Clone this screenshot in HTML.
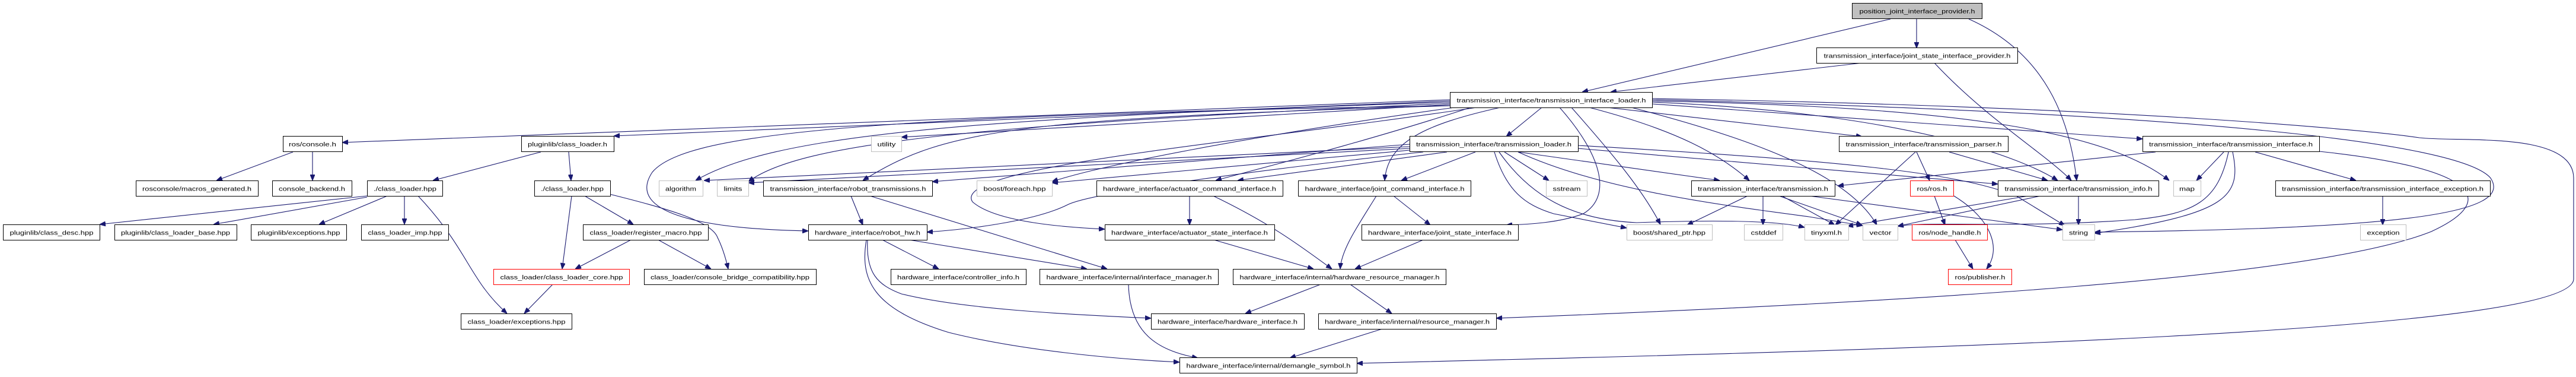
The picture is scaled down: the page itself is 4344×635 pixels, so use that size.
<!DOCTYPE html>
<html><head><meta charset="utf-8"><style>
html,body{margin:0;padding:0;background:#fff;}
svg{display:block;}
text{font-family:"Liberation Sans",sans-serif;font-size:10.5px;fill:#000;}
.e{fill:none;stroke:#191970;stroke-width:1.1;marker-end:url(#a);}
</style></head><body>
<svg width="4344" height="635" viewBox="0 0 4344 635" xmlns="http://www.w3.org/2000/svg">
<defs><marker id="a" markerUnits="userSpaceOnUse" markerWidth="10" markerHeight="8" refX="10" refY="4" orient="auto"><path d="M0,0 L10,4 L0,8 z" fill="#191970" stroke="#191970"/></marker></defs>
<g>
<!-- edges -->
<path class="e" d="M3232,32 L3232,81"/>
<path class="e" d="M3188,32 L2668,155"/>
<path class="e" d="M3320,32 C3450,90 3490,200 3502,304"/>
<path class="e" d="M3140,106 L2716,155"/>
<path class="e" d="M3262,106 C3350,200 3450,260 3493,304"/>
<path class="e" d="M2445,168 L577,240"/>
<path class="e" d="M2445,170 L1035,229"/>
<path class="e" d="M2445,172 C1600,200 1300,230 1173,304"/>
<path class="e" d="M2445,174 C1650,210 1350,240 1262,306"/>
<path class="e" d="M2445,176 L1520,231"/>
<path class="e" d="M2450,178 C1700,200 1590,220 1455,304"/>
<path class="e" d="M2445,178 C1400,195 1150,230 1100,290 C1060,350 1150,385 1363,389"/>
<path class="e" d="M2460,180 C2100,230 1850,280 1774,306"/>
<path class="e" d="M2480,181 C2300,240 2100,290 2050,304"/>
<path class="e" d="M2490,181 C2100,240 1600,280 1640,340 C1680,375 1800,383 1863,386"/>
<path class="e" d="M2600,181 L2540,230"/>
<path class="e" d="M2530,181 C2400,210 2340,240 2335,304"/>
<path class="e" d="M2630,181 C2700,260 2720,330 2670,360 C2630,375 2580,378 2540,379"/>
<path class="e" d="M2650,181 C2720,260 2770,320 2800,378"/>
<path class="e" d="M2680,181 C2830,220 2900,260 2950,304"/>
<path class="e" d="M2786,175 L3613,234"/>
<path class="e" d="M2710,181 L3140,230"/>
<path class="e" d="M2786,172 C3200,190 3400,260 3470,304"/>
<path class="e" d="M2786,170 C3300,180 3550,220 3658,304"/>
<path class="e" d="M2751,181 C2980,240 3120,300 3165,379"/>
<path class="e" d="M2786,168 C3700,190 4150,240 4200,300 C4240,360 4050,385 3532,391"/>
<path class="e" d="M3911,255 C4150,280 4230,330 4100,390 C3900,470 3200,510 2523,536"/>
<path class="e" d="M2786,166 C3600,180 4000,220 4080,232 C4150,240 4340,220 4340,300 L4340,470 C4340,560 3200,590 2288,612"/>
<path class="e" d="M2377,247 L1187,304"/>
<path class="e" d="M2377,250 L1262,308"/>
<path class="e" d="M2377,243 L1572,306"/>
<path class="e" d="M2377,253 L1774,308"/>
<path class="e" d="M2440,256 L2087,304"/>
<path class="e" d="M2400,256 C2000,300 1830,330 1800,345 C1750,370 1650,385 1563,391"/>
<path class="e" d="M2488,256 L2363,304"/>
<path class="e" d="M2537,256 L2612,304"/>
<path class="e" d="M2520,256 C2540,320 2570,345 2620,360 L2743,384"/>
<path class="e" d="M2528,256 C2580,330 2650,370 2760,375 C2900,370 3000,372 3043,383"/>
<path class="e" d="M2560,256 L2900,304"/>
<path class="e" d="M2661,250 L3369,310"/>
<path class="e" d="M2661,245 C3100,270 3300,290 3400,330 L3482,380"/>
<path class="e" d="M2560,256 C2700,320 2900,345 3050,365 L3141,380"/>
<path class="e" d="M494,256 L365,304"/>
<path class="e" d="M527,256 L527,304"/>
<path class="e" d="M912,256 L730,304"/>
<path class="e" d="M959,256 L963,304"/>
<path class="e" d="M619,330 L168,378"/>
<path class="e" d="M619,332 L360,378"/>
<path class="e" d="M653,330 L538,378"/>
<path class="e" d="M682,330 L682,378"/>
<path class="e" d="M705,330 C790,420 790,470 855,528"/>
<path class="e" d="M964,330 L948,453"/>
<path class="e" d="M986,330 L1068,378"/>
<path class="e" d="M1028,327 C1120,350 1200,372 1210,400 C1220,420 1225,440 1228,453"/>
<path class="e" d="M1064,404 L970,453"/>
<path class="e" d="M1110,404 L1199,453"/>
<path class="e" d="M932,479 L884,528"/>
<path class="e" d="M1435,330 L1455,379"/>
<path class="e" d="M1467,330 L1867,453"/>
<path class="e" d="M2006,330 L2006,379"/>
<path class="e" d="M2046,330 C2150,380 2200,420 2246,453"/>
<path class="e" d="M2321,330 C2290,380 2262,420 2260,453"/>
<path class="e" d="M2350,330 L2412,379"/>
<path class="e" d="M1488,404 L1583,453"/>
<path class="e" d="M1533,404 L1833,453"/>
<path class="e" d="M1463,404 C1460,460 1480,480 1520,495 C1620,520 1800,530 1941,536"/>
<path class="e" d="M1461,404 C1450,470 1470,520 1600,560 C1720,590 1880,605 1989,610"/>
<path class="e" d="M2047,404 L2215,453"/>
<path class="e" d="M2400,404 L2285,453"/>
<path class="e" d="M1903,479 C1905,560 1950,590 2020,603"/>
<path class="e" d="M2227,479 L2100,528"/>
<path class="e" d="M2277,479 L2347,528"/>
<path class="e" d="M2334,553 L2175,603"/>
<path class="e" d="M2947,330 L2845,379"/>
<path class="e" d="M2973,330 L2973,379"/>
<path class="e" d="M3005,330 L3094,379"/>
<path class="e" d="M3051,330 L3478,387"/>
<path class="e" d="M3000,330 L3140,379"/>
<path class="e" d="M3232,256 L3254,304"/>
<path class="e" d="M3287,256 L3453,304"/>
<path class="e" d="M3230,256 L3095,379"/>
<path class="e" d="M3420,330 L3115,381"/>
<path class="e" d="M3441,330 L3200,381"/>
<path class="e" d="M3505,330 L3505,379"/>
<path class="e" d="M3262,330 L3280,379"/>
<path class="e" d="M3295,330 C3360,370 3375,420 3350,453"/>
<path class="e" d="M3297,404 L3327,453"/>
<path class="e" d="M3635,256 L3099,313"/>
<path class="e" d="M3750,256 L3704,304"/>
<path class="e" d="M3758,256 C3740,340 3700,360 3600,370 C3400,385 3250,372 3200,381"/>
<path class="e" d="M3765,256 C3780,330 3760,360 3532,393"/>
<path class="e" d="M3803,256 L3973,304"/>
<path class="e" d="M4018,330 L4018,379"/>
</g>
<g id="nodes"></g>
<!-- nodes: rect + text -->
<g stroke-width="1">
<rect x="3123.5" y="5.5" width="219" height="26" fill="#bfbfbf" stroke="#000"/><text x="3233" y="22.5" text-anchor="middle" textLength="195" lengthAdjust="spacingAndGlyphs">position_joint_interface_provider.h</text>
<rect x="3063.5" y="80.5" width="339" height="26" fill="#fff" stroke="#000"/><text x="3233" y="97.5" text-anchor="middle" textLength="315" lengthAdjust="spacingAndGlyphs">transmission_interface/joint_state_interface_provider.h</text>
<rect x="2445.5" y="155.5" width="341" height="26" fill="#fff" stroke="#000"/><text x="2616" y="172.5" text-anchor="middle" textLength="319" lengthAdjust="spacingAndGlyphs">transmission_interface/transmission_interface_loader.h</text>

<rect x="477.5" y="229.5" width="100" height="26" fill="#fff" stroke="#000"/><text x="527" y="246.5" text-anchor="middle" textLength="80" lengthAdjust="spacingAndGlyphs">ros/console.h</text>
<rect x="879.5" y="229.5" width="156" height="26" fill="#fff" stroke="#000"/><text x="957" y="246.5" text-anchor="middle" textLength="134" lengthAdjust="spacingAndGlyphs">pluginlib/class_loader.h</text>
<rect x="1469.5" y="229.5" width="51" height="26" fill="#fff" stroke="#bfbfbf"/><text x="1495" y="246.5" text-anchor="middle" textLength="31" lengthAdjust="spacingAndGlyphs">utility</text>
<rect x="2377.5" y="229.5" width="284" height="26" fill="#fff" stroke="#000"/><text x="2519" y="246.5" text-anchor="middle" textLength="262" lengthAdjust="spacingAndGlyphs">transmission_interface/transmission_loader.h</text>
<rect x="3101.5" y="229.5" width="285" height="26" fill="#fff" stroke="#000"/><text x="3244" y="246.5" text-anchor="middle" textLength="263" lengthAdjust="spacingAndGlyphs">transmission_interface/transmission_parser.h</text>
<rect x="3613.5" y="229.5" width="298" height="26" fill="#fff" stroke="#000"/><text x="3762" y="246.5" text-anchor="middle" textLength="276" lengthAdjust="spacingAndGlyphs">transmission_interface/transmission_interface.h</text>

<rect x="229.5" y="304.5" width="206" height="26" fill="#fff" stroke="#000"/><text x="332" y="321.5" text-anchor="middle" textLength="184" lengthAdjust="spacingAndGlyphs">rosconsole/macros_generated.h</text>
<rect x="459.5" y="304.5" width="134" height="26" fill="#fff" stroke="#000"/><text x="526" y="321.5" text-anchor="middle" textLength="112" lengthAdjust="spacingAndGlyphs">console_backend.h</text>
<rect x="619.5" y="304.5" width="127" height="26" fill="#fff" stroke="#000"/><text x="683" y="321.5" text-anchor="middle" textLength="106" lengthAdjust="spacingAndGlyphs">./class_loader.hpp</text>
<rect x="901.5" y="304.5" width="128" height="26" fill="#fff" stroke="#000"/><text x="965" y="321.5" text-anchor="middle" textLength="106" lengthAdjust="spacingAndGlyphs">./class_loader.hpp</text>
<rect x="1111.5" y="304.5" width="74" height="26" fill="#fff" stroke="#bfbfbf"/><text x="1148" y="321.5" text-anchor="middle" textLength="52" lengthAdjust="spacingAndGlyphs">algorithm</text>
<rect x="1209.5" y="304.5" width="53" height="26" fill="#fff" stroke="#bfbfbf"/><text x="1236" y="321.5" text-anchor="middle" textLength="31" lengthAdjust="spacingAndGlyphs">limits</text>
<rect x="1287.5" y="304.5" width="285" height="26" fill="#fff" stroke="#000"/><text x="1430" y="321.5" text-anchor="middle" textLength="263" lengthAdjust="spacingAndGlyphs">transmission_interface/robot_transmissions.h</text>
<rect x="1647.5" y="304.5" width="127" height="26" fill="#fff" stroke="#bfbfbf"/><text x="1711" y="321.5" text-anchor="middle" textLength="105" lengthAdjust="spacingAndGlyphs">boost/foreach.hpp</text>
<rect x="1849.5" y="304.5" width="314" height="26" fill="#fff" stroke="#000"/><text x="2006" y="321.5" text-anchor="middle" textLength="292" lengthAdjust="spacingAndGlyphs">hardware_interface/actuator_command_interface.h</text>
<rect x="2189.5" y="304.5" width="291" height="26" fill="#fff" stroke="#000"/><text x="2335" y="321.5" text-anchor="middle" textLength="269" lengthAdjust="spacingAndGlyphs">hardware_interface/joint_command_interface.h</text>
<rect x="2607.5" y="304.5" width="69" height="26" fill="#fff" stroke="#bfbfbf"/><text x="2642" y="321.5" text-anchor="middle" textLength="47" lengthAdjust="spacingAndGlyphs">sstream</text>
<rect x="2852.5" y="304.5" width="242" height="26" fill="#fff" stroke="#000"/><text x="2973" y="321.5" text-anchor="middle" textLength="220" lengthAdjust="spacingAndGlyphs">transmission_interface/transmission.h</text>
<rect x="3221.5" y="304.5" width="73" height="26" fill="#fff" stroke="#ff0000"/><text x="3258" y="321.5" text-anchor="middle" textLength="51" lengthAdjust="spacingAndGlyphs">ros/ros.h</text>
<rect x="3369.5" y="304.5" width="271" height="26" fill="#fff" stroke="#000"/><text x="3505" y="321.5" text-anchor="middle" textLength="249" lengthAdjust="spacingAndGlyphs">transmission_interface/transmission_info.h</text>
<rect x="3665.5" y="304.5" width="46" height="26" fill="#fff" stroke="#bfbfbf"/><text x="3688" y="321.5" text-anchor="middle" textLength="26" lengthAdjust="spacingAndGlyphs">map</text>
<rect x="3837.5" y="304.5" width="362" height="26" fill="#fff" stroke="#000"/><text x="4018" y="321.5" text-anchor="middle" textLength="340" lengthAdjust="spacingAndGlyphs">transmission_interface/transmission_interface_exception.h</text>

<rect x="5.5" y="378.5" width="163" height="26" fill="#fff" stroke="#000"/><text x="87" y="395.5" text-anchor="middle" textLength="141" lengthAdjust="spacingAndGlyphs">pluginlib/class_desc.hpp</text>
<rect x="193.5" y="378.5" width="206" height="26" fill="#fff" stroke="#000"/><text x="296" y="395.5" text-anchor="middle" textLength="184" lengthAdjust="spacingAndGlyphs">pluginlib/class_loader_base.hpp</text>
<rect x="423.5" y="378.5" width="161" height="26" fill="#fff" stroke="#000"/><text x="504" y="395.5" text-anchor="middle" textLength="139" lengthAdjust="spacingAndGlyphs">pluginlib/exceptions.hpp</text>
<rect x="609.5" y="378.5" width="147" height="26" fill="#fff" stroke="#000"/><text x="683" y="395.5" text-anchor="middle" textLength="125" lengthAdjust="spacingAndGlyphs">class_loader_imp.hpp</text>
<rect x="983.5" y="378.5" width="211" height="26" fill="#fff" stroke="#000"/><text x="1089" y="395.5" text-anchor="middle" textLength="189" lengthAdjust="spacingAndGlyphs">class_loader/register_macro.hpp</text>
<rect x="1363.5" y="378.5" width="200" height="26" fill="#fff" stroke="#000"/><text x="1463" y="395.5" text-anchor="middle" textLength="178" lengthAdjust="spacingAndGlyphs">hardware_interface/robot_hw.h</text>
<rect x="1863.5" y="378.5" width="286" height="26" fill="#fff" stroke="#000"/><text x="2006" y="395.5" text-anchor="middle" textLength="264" lengthAdjust="spacingAndGlyphs">hardware_interface/actuator_state_interface.h</text>
<rect x="2296.5" y="378.5" width="264" height="26" fill="#fff" stroke="#000"/><text x="2428" y="395.5" text-anchor="middle" textLength="242" lengthAdjust="spacingAndGlyphs">hardware_interface/joint_state_interface.h</text>
<rect x="2743.5" y="378.5" width="144" height="26" fill="#fff" stroke="#bfbfbf"/><text x="2815" y="395.5" text-anchor="middle" textLength="122" lengthAdjust="spacingAndGlyphs">boost/shared_ptr.hpp</text>
<rect x="2941.5" y="378.5" width="65" height="26" fill="#fff" stroke="#bfbfbf"/><text x="2974" y="395.5" text-anchor="middle" textLength="43" lengthAdjust="spacingAndGlyphs">cstddef</text>
<rect x="3043.5" y="378.5" width="74" height="26" fill="#fff" stroke="#bfbfbf"/><text x="3080" y="395.5" text-anchor="middle" textLength="52" lengthAdjust="spacingAndGlyphs">tinyxml.h</text>
<rect x="3141.5" y="378.5" width="59" height="26" fill="#fff" stroke="#bfbfbf"/><text x="3171" y="395.5" text-anchor="middle" textLength="37" lengthAdjust="spacingAndGlyphs">vector</text>
<rect x="3224.5" y="378.5" width="127" height="26" fill="#fff" stroke="#ff0000"/><text x="3288" y="395.5" text-anchor="middle" textLength="105" lengthAdjust="spacingAndGlyphs">ros/node_handle.h</text>
<rect x="3478.5" y="378.5" width="54" height="26" fill="#fff" stroke="#bfbfbf"/><text x="3505" y="395.5" text-anchor="middle" textLength="32" lengthAdjust="spacingAndGlyphs">string</text>
<rect x="3980.5" y="378.5" width="77" height="26" fill="#fff" stroke="#bfbfbf"/><text x="4019" y="395.5" text-anchor="middle" textLength="55" lengthAdjust="spacingAndGlyphs">exception</text>

<rect x="832.5" y="453.5" width="229" height="26" fill="#fff" stroke="#ff0000"/><text x="947" y="470.5" text-anchor="middle" textLength="207" lengthAdjust="spacingAndGlyphs">class_loader/class_loader_core.hpp</text>
<rect x="1086.5" y="453.5" width="290" height="26" fill="#fff" stroke="#000"/><text x="1231" y="470.5" text-anchor="middle" textLength="268" lengthAdjust="spacingAndGlyphs">class_loader/console_bridge_compatibility.hpp</text>
<rect x="1502.5" y="453.5" width="228" height="26" fill="#fff" stroke="#000"/><text x="1616" y="470.5" text-anchor="middle" textLength="206" lengthAdjust="spacingAndGlyphs">hardware_interface/controller_info.h</text>
<rect x="1753.5" y="453.5" width="301" height="26" fill="#fff" stroke="#000"/><text x="1904" y="470.5" text-anchor="middle" textLength="279" lengthAdjust="spacingAndGlyphs">hardware_interface/internal/interface_manager.h</text>
<rect x="2079.5" y="453.5" width="359" height="26" fill="#fff" stroke="#000"/><text x="2259" y="470.5" text-anchor="middle" textLength="337" lengthAdjust="spacingAndGlyphs">hardware_interface/internal/hardware_resource_manager.h</text>
<rect x="3285.5" y="453.5" width="107" height="26" fill="#fff" stroke="#ff0000"/><text x="3339" y="470.5" text-anchor="middle" textLength="85" lengthAdjust="spacingAndGlyphs">ros/publisher.h</text>

<rect x="777.5" y="528.5" width="187" height="26" fill="#fff" stroke="#000"/><text x="871" y="545.5" text-anchor="middle" textLength="165" lengthAdjust="spacingAndGlyphs">class_loader/exceptions.hpp</text>
<rect x="1941.5" y="528.5" width="258" height="26" fill="#fff" stroke="#000"/><text x="2070" y="545.5" text-anchor="middle" textLength="236" lengthAdjust="spacingAndGlyphs">hardware_interface/hardware_interface.h</text>
<rect x="2223.5" y="528.5" width="300" height="26" fill="#fff" stroke="#000"/><text x="2373" y="545.5" text-anchor="middle" textLength="278" lengthAdjust="spacingAndGlyphs">hardware_interface/internal/resource_manager.h</text>

<rect x="1989.5" y="602.5" width="299" height="26" fill="#fff" stroke="#000"/><text x="2139" y="619.5" text-anchor="middle" textLength="277" lengthAdjust="spacingAndGlyphs">hardware_interface/internal/demangle_symbol.h</text>
</g>
</svg>
</body></html>
